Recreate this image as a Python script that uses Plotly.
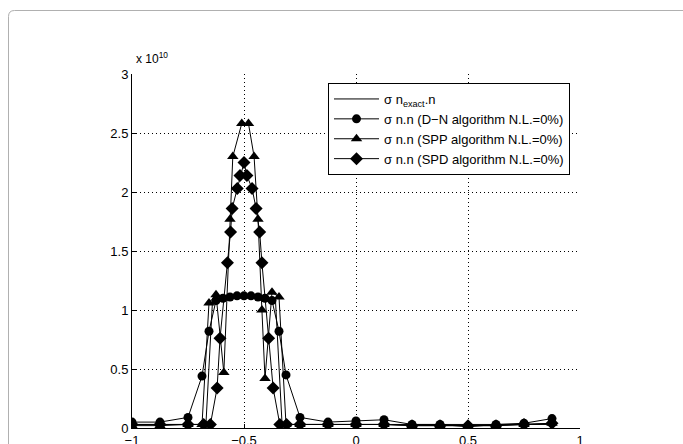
import plotly.graph_objects as go

# Data (y values in units of 1e10)
exact_x = [-1, -0.875, -0.75, -0.6875, -0.67, -0.64, -0.5, -0.36, -0.33, -0.3125, -0.25, -0.125, 0, 0.125, 0.25, 0.375, 0.5, 0.625, 0.75, 0.875]
exact_y = [0.03, 0.03, 0.03, 0.03, 0.03, 1.1, 1.1, 1.1, 0.03, 0.03, 0.03, 0.03, 0.03, 0.03, 0.03, 0.03, 0.03, 0.03, 0.03, 0.03]

dn_x = [-1, -0.875, -0.75, -0.6875, -0.65625, -0.625, -0.59375, -0.5625, -0.53125, -0.5, -0.46875, -0.4375, -0.40625, -0.375, -0.34375, -0.3125, -0.25, -0.125, 0, 0.125, 0.25, 0.375, 0.5, 0.625, 0.75, 0.875]
dn_y = [0.05, 0.05, 0.09, 0.44, 0.82, 1.08, 1.1, 1.11, 1.12, 1.12, 1.12, 1.11, 1.1, 1.08, 0.82, 0.45, 0.09, 0.05, 0.06, 0.07, 0.03, 0.03, 0.01, 0.03, 0.04, 0.08]

spp_x = [-1, -0.875, -0.75, -0.6875, -0.65625, -0.625, -0.59, -0.5625, -0.55, -0.51, -0.48, -0.455, -0.4375, -0.42, -0.40625, -0.375, -0.34375, -0.3125, -0.25, -0.125, 0, 0.125, 0.25, 0.375, 0.5, 0.625, 0.75, 0.875]
spp_y = [0.02, 0.02, 0.03, 0.03, 1.06, 1.13, 0.47, 1.77, 2.3, 2.58, 2.58, 2.3, 1.77, 1.0, 0.42, 1.15, 1.11, 0.03, 0.03, 0.03, 0.03, 0.03, 0.02, 0.02, 0.02, 0.02, 0.03, 0.04]

spd_x = [-1, -0.875, -0.75, -0.68, -0.65, -0.62, -0.607, -0.574, -0.56, -0.553, -0.53, -0.518, -0.5, -0.487, -0.464, -0.446, -0.43, -0.42, -0.39, -0.37, -0.34, -0.31, -0.25, -0.125, 0, 0.125, 0.25, 0.375, 0.5, 0.625, 0.75, 0.875]
spd_y = [0.03, 0.03, 0.03, 0.03, 0.03, 0.34, 0.76, 1.40, 1.66, 1.86, 2.03, 2.14, 2.25, 2.14, 2.03, 1.86, 1.66, 1.40, 0.76, 0.34, 0.03, 0.03, 0.03, 0.03, 0.03, 0.03, 0.02, 0.02, 0.02, 0.02, 0.03, 0.04]

x_ticks = [-1, -0.5, 0, 0.5, 1]
x_labels = ["\u22121", "\u22120.5", "0", "0.5", "1"]
y_ticks = [0, 0.5, 1, 1.5, 2, 2.5, 3]
y_labels = ["0", "0.5", "1", "1.5", "2", "2.5", "3"]

FONT = "Liberation Sans, Arial, sans-serif"
line = dict(color="black", width=1)

fig = go.Figure()
fig.add_trace(go.Scatter(x=exact_x, y=exact_y, mode="lines", line=line,
                         name="\u03c3 n<sub>exact</sub>.n"))
fig.add_trace(go.Scatter(x=dn_x, y=dn_y, mode="lines+markers", line=line,
                         marker=dict(symbol="circle", size=9, color="black"),
                         name="\u03c3 n.n (D\u2212N algorithm N.L.=0%)"))
fig.add_trace(go.Scatter(x=spp_x, y=spp_y, mode="lines+markers", line=line,
                         marker=dict(symbol="triangle-up", size=10, color="black"),
                         name="\u03c3 n.n (SPP algorithm N.L.=0%)"))
fig.add_trace(go.Scatter(x=spd_x, y=spd_y, mode="lines+markers", line=line,
                         marker=dict(symbol="diamond", size=10, color="black"),
                         name="\u03c3 n.n (SPD algorithm N.L.=0%)"))

L, R, T, B = 132, 580, 74, 428
W, H = 683, 444
def px(xp):
    return (xp - L) / (R - L)
def py(yp):
    return (B - yp) / (B - T)

# rounded outer frame
x0, y0 = px(8.5), py(10.5)
x1, y1 = px(700), py(460)
rx, ry = 6 / (R - L), 6 / (B - T)
path = (f"M {x0},{y1} L {x0},{y0 - ry} Q {x0},{y0} {x0 + rx},{y0} "
        f"L {x1},{y0}")

axis_common = dict(showgrid=True, gridcolor="black", griddash="1px,3px", gridwidth=1,
                   showline=True, linecolor="black", linewidth=1,
                   ticks="inside", ticklen=4, tickcolor="black",
                   zeroline=False, automargin=False,
                   tickfont=dict(family=FONT, size=13, color="black"))

fig.update_layout(
    width=W, height=H,
    margin=dict(l=L, r=W - R, t=T, b=H - B, autoexpand=False),
    paper_bgcolor="white", plot_bgcolor="white",
    font=dict(family=FONT, size=13, color="black"),
    showlegend=True,
    legend=dict(x=px(328), y=py(83), xanchor="left", yanchor="top",
                bgcolor="white", bordercolor="black", borderwidth=1,
                font=dict(family=FONT, size=13, color="black"),
                tracegroupgap=0, itemwidth=45),
    xaxis=dict(range=[-1, 1], tickvals=x_ticks, ticktext=x_labels,
               ticklabelstandoff=0, **axis_common),
    yaxis=dict(range=[0, 3], tickvals=y_ticks, ticktext=y_labels, **axis_common),
    shapes=[dict(type="path", xref="paper", yref="paper", path=path,
                 line=dict(color="#b0b0b0", width=1), layer="above")],
    annotations=[dict(text="x 10<sup>10</sup>", xref="paper", yref="paper",
                      x=px(134), y=py(68), xanchor="left", yanchor="bottom",
                      showarrow=False, font=dict(family=FONT, size=12, color="black"))],
)

fig.write_html("out.html")
